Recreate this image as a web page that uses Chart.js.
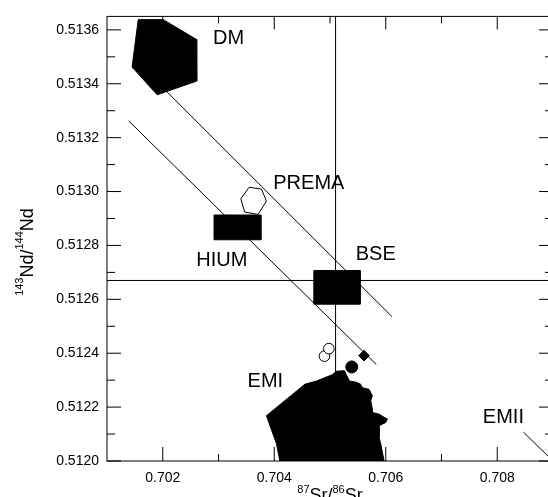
<!DOCTYPE html>
<html>
<head>
<meta charset="utf-8">
<script src="https://cdn.jsdelivr.net/npm/chart.js@4.4.1/dist/chart.umd.min.js"></script>
<style>
  html, body { margin: 0; padding: 0; overflow: hidden; background: #fff; }
</style>
</head>
<body>
<canvas id="c" width="560" height="497"></canvas>
<script>
const FONT = "'Liberation Sans', Arial, sans-serif";

// axis ticks
const xTicks = [0.702, 0.704, 0.706, 0.708];
const xMinor = [0.703, 0.705, 0.707];
const yTicks = [0.5120, 0.5122, 0.5124, 0.5126, 0.5128, 0.5130, 0.5132, 0.5134, 0.5136];
const yMinor = [0.5121, 0.5123, 0.5125, 0.5127, 0.5129, 0.5131, 0.5133, 0.5135];

// reservoir fields (Sr, Nd)
const dmX = [0.70156, 0.70201, 0.70260, 0.70261, 0.70190, 0.70145];
const dmY = [0.513638, 0.513638, 0.513565, 0.513410, 0.513359, 0.513462];

const premaX = [0.70355, 0.70377, 0.70386, 0.70371, 0.70347, 0.70340];
const premaY = [0.513016, 0.513009, 0.512965, 0.512915, 0.512924, 0.512973];

const hiumX = [0.70292, 0.70376, 0.70376, 0.70292];
const hiumY = [0.512913, 0.512913, 0.512821, 0.512821];

const bseX = [0.70471, 0.70554, 0.70554, 0.70471];
const bseY = [0.512707, 0.512707, 0.512582, 0.512582];

const emiX = [0.70410, 0.70404, 0.70386, 0.70455, 0.70476, 0.70505, 0.70511, 0.70526,
              0.70529, 0.70535, 0.70546, 0.70555, 0.70558, 0.70570, 0.70573, 0.70576,
              0.70573, 0.70576, 0.70576, 0.70588, 0.70597, 0.70603, 0.70600, 0.70588,
              0.70588, 0.70591, 0.70597];
const emiY = [0.512000, 0.512064, 0.512168, 0.512285, 0.512297, 0.512321, 0.512333, 0.512335,
              0.512321, 0.512297, 0.512293, 0.512285, 0.512272, 0.512266, 0.512254, 0.512242,
              0.512223, 0.512193, 0.512180, 0.512174, 0.512162, 0.512156, 0.512143, 0.512131,
              0.512088, 0.512064, 0.512000];

// reference lines
const line1X = [0.70195, 0.70611];
const line1Y = [0.513396, 0.512536];
const line2X = [0.70139, 0.70583];
const line2Y = [0.513262, 0.512358];
const bseSrX = [0.7051, 0.7051];
const bseSrY = [0.5120, 0.51365];
const bseNdX = [0.701, 0.709];
const bseNdY = [0.51267, 0.51267];
const emiiX = [0.70847, 0.709];
const emiiY = [0.512107, 0.512];

// samples
const openX = [0.70490, 0.70498];
const openY = [0.512389, 0.512417];
const filledX = [0.70539];
const filledY = [0.512349];
const diamondX = [0.70561];
const diamondY = [0.512391];

// field labels
const labelNames = ['DM', 'PREMA', 'HIUM', 'BSE', 'EMI', 'EMII'];
const labelX = [0.70318, 0.70462, 0.70306, 0.70582, 0.70384, 0.70811];
const labelY = [0.513567, 0.513030, 0.512743, 0.512765, 0.512294, 0.512162];

const toPts = (xs, ys) => xs.map((v, i) => ({ x: v, y: ys[i] }));
const closed = (xs, ys) => { const p = toPts(xs, ys); p.push(p[0]); return p; };

function field(xs, ys, color) {
  return {
    data: closed(xs, ys), borderColor: '#000', borderWidth: 1,
    backgroundColor: color, fill: 'shape', pointRadius: 0, tension: 0
  };
}
function seg(xs, ys) {
  return { data: toPts(xs, ys), borderColor: '#000', borderWidth: 1, fill: false, pointRadius: 0 };
}
function marks(xs, ys, style, r, bg) {
  return {
    data: toPts(xs, ys), showLine: false, pointStyle: style, pointRadius: r,
    pointBackgroundColor: bg, pointBorderColor: '#000', pointBorderWidth: 1
  };
}

// inner ticks, frame, labels and axis titles
const decor = {
  id: 'decor',
  beforeDatasetsDraw(chart) {
    const { ctx, chartArea: a, scales: { x, y } } = chart;
    ctx.save();
    ctx.strokeStyle = '#000';
    ctx.lineWidth = 1;
    ctx.beginPath();
    const tx = (vals, lb, lt) => vals.forEach(v => {
      const p = x.getPixelForValue(v);
      ctx.moveTo(p, a.bottom); ctx.lineTo(p, a.bottom - lb);
      ctx.moveTo(p, a.top); ctx.lineTo(p, a.top + lt);
    });
    const ty = (vals, l) => vals.forEach(v => {
      const p = y.getPixelForValue(v);
      ctx.moveTo(a.left, p); ctx.lineTo(a.left + l, p);
      ctx.moveTo(a.right, p); ctx.lineTo(a.right - l, p);
    });
    tx(xTicks, 14, 13);
    tx(xMinor, 7, 7);
    ty(yTicks, 14);
    ty(yMinor, 8);
    ctx.stroke();
    ctx.restore();
  },
  afterDatasetsDraw(chart) {
    const { ctx, chartArea: a, scales: { x, y } } = chart;
    ctx.save();
    ctx.strokeStyle = '#000';
    ctx.lineWidth = 1;
    ctx.strokeRect(a.left, a.top, a.right - a.left, a.bottom - a.top);

    ctx.fillStyle = '#000';
    ctx.font = '20px ' + FONT;
    ctx.textAlign = 'center';
    ctx.textBaseline = 'middle';
    labelNames.forEach((t, i) => {
      ctx.fillText(t, x.getPixelForValue(labelX[i]), y.getPixelForValue(labelY[i]));
    });

    // titles with superscripts
    const rich = (parts, big, small, raise) => {
      let w = 0;
      parts.forEach(p => { ctx.font = (p.sup ? small : big) + 'px ' + FONT; w += ctx.measureText(p.t).width; });
      let cx = -w / 2;
      ctx.textAlign = 'left';
      ctx.textBaseline = 'alphabetic';
      parts.forEach(p => {
        ctx.font = (p.sup ? small : big) + 'px ' + FONT;
        ctx.fillText(p.t, cx, p.sup ? -raise : 0);
        cx += ctx.measureText(p.t).width;
      });
    };
    ctx.save();
    ctx.translate((a.left + a.right) / 2, 501);
    rich([{ t: '87', sup: 1 }, { t: 'Sr/' }, { t: '86', sup: 1 }, { t: 'Sr' }], 18, 11, 8);
    ctx.restore();
    ctx.save();
    ctx.translate(33, 252);
    ctx.rotate(-Math.PI / 2);
    rich([{ t: '143', sup: 1 }, { t: 'Nd/' }, { t: '144', sup: 1 }, { t: 'Nd' }], 18, 11, 10);
    ctx.restore();
    ctx.restore();
  }
};

new Chart(document.getElementById('c'), {
  type: 'line',
  data: {
    datasets: [
      marks(openX, openY, 'circle', 5.3, '#fff'),
      marks(filledX, filledY, 'circle', 6, '#000'),
      marks(diamondX, diamondY, 'rectRot', 5.3, '#000'),
      field(premaX, premaY, '#fff'),
      field(dmX, dmY, '#000'),
      field(hiumX, hiumY, '#000'),
      field(bseX, bseY, '#000'),
      field(emiX, emiY, '#000'),
      seg(line1X, line1Y),
      seg(line2X, line2Y),
      seg(bseSrX, bseSrY),
      seg(bseNdX, bseNdY),
      seg(emiiX, emiiY)
    ]
  },
  options: {
    responsive: false,
    animation: false,
    events: [],
    layout: { padding: { top: 12, right: 5, left: 0, bottom: 0 } },
    plugins: { legend: { display: false }, tooltip: { enabled: false } },
    scales: {
      x: {
        type: 'linear', min: 0.701, max: 0.709,
        grid: { display: false, drawTicks: false },
        border: { display: false },
        afterBuildTicks: s => { s.ticks = xTicks.map(v => ({ value: v })); },
        afterFit: s => { s.height = 36; },
        ticks: {
          padding: 9, color: '#000', autoSkip: false, maxRotation: 0,
          font: { family: FONT, size: 14 },
          callback: v => v.toFixed(3)
        }
      },
      y: {
        type: 'linear', min: 0.5120, max: 0.51365,
        grid: { display: false, drawTicks: false },
        border: { display: false },
        afterBuildTicks: s => { s.ticks = yTicks.map(v => ({ value: v })); },
        afterFit: s => { s.width = 107; },
        ticks: {
          padding: 8, color: '#000', autoSkip: false,
          font: { family: FONT, size: 14 },
          callback: v => v.toFixed(4)
        }
      }
    }
  },
  plugins: [decor]
});
</script>
</body>
</html>
